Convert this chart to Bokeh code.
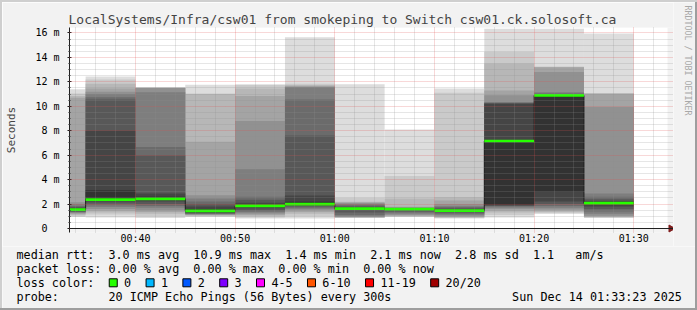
import math
from bokeh.plotting import figure
from bokeh.models import Range1d, FixedTicker, Div, ColumnDataSource, Span
from bokeh.layouts import column, row
from bokeh.embed import file_html
from bokeh.resources import INLINE
from bokeh.core.properties import value

# ---------------- data ----------------
title_text = "LocalSystems/Infra/csw01 from smokeping to Switch csw01.ck.solosoft.ca"
window_start = "00:33:23"
window_end = "01:33:23"
step_minutes = 5
bar_end = ["00:35", "00:40", "00:45", "00:50", "00:55", "01:00",
           "01:05", "01:10", "01:15", "01:20", "01:25", "01:30"]

# 20 sorted ping times (ms) per 5-minute step
pings_0035 = [0.95, 1.0, 1.1, 1.2, 1.25, 1.3, 1.35, 1.4, 1.45, 1.5, 1.58, 1.65, 1.75, 1.85, 2.0, 2.15, 10.7, 10.85, 11.05, 11.4]
pings_0040 = [0.9, 1.15, 1.3, 1.45, 1.6, 1.75, 1.9, 2.05, 2.2, 2.3, 3.13, 8.03, 10.56, 10.75, 11.0, 11.2, 11.45, 11.85, 12.2, 12.45]
pings_0045 = [0.85, 1.0, 1.2, 1.35, 1.5, 1.7, 1.85, 2.0, 2.2, 2.35, 2.6, 2.86, 6.0, 6.67, 11.16, 11.49, 11.5, 11.52, 11.54, 11.56]
pings_0050 = [0.95, 1.0, 1.05, 1.1, 1.14, 1.17, 1.2, 1.25, 1.3, 1.4, 1.6, 1.8, 2.0, 2.2, 2.45, 2.72, 7.1, 11.0, 11.05, 11.76]
pings_0055 = [0.82, 0.9, 1.0, 1.1, 1.2, 1.3, 1.4, 1.5, 1.65, 1.8, 1.95, 2.1, 2.35, 2.6, 4.85, 8.8, 10.85, 11.45, 11.75, 11.8]
pings_0100 = [0.82, 1.0, 1.2, 1.35, 1.5, 1.6, 1.7, 1.8, 1.9, 2.0, 2.18, 2.7, 7.62, 10.56, 11.57, 11.6, 11.65, 11.75, 11.85, 15.65]
pings_0105 = [0.87, 0.88, 0.9, 0.92, 0.95, 1.0, 1.1, 1.3, 1.5, 1.6, 1.66, 1.72, 1.8, 1.9, 2.0, 2.08, 2.14, 2.18, 2.5, 11.8]
pings_0110 = [0.95, 0.97, 1.0, 1.05, 1.1, 1.2, 1.3, 1.4, 1.5, 1.56, 1.6, 1.62, 1.64, 1.66, 1.69, 1.72, 1.77, 2.45, 4.3, 8.1]
pings_0115 = [0.82, 0.85, 0.9, 0.95, 1.0, 1.1, 1.2, 1.3, 1.4, 1.45, 1.52, 1.58, 1.65, 1.75, 1.85, 2.0, 2.3, 2.55, 11.1, 11.45]
pings_0120 = [0.9, 1.1, 1.3, 1.45, 1.6, 1.7, 1.8, 1.85, 1.9, 1.95, 7.2, 10.2, 10.25, 10.3, 10.35, 10.9, 11.3, 13.5, 14.45, 16.35]
pings_0125 = [1.2, 1.25, 1.35, 1.45, 1.55, 1.7, 1.85, 2.0, 2.2, 3.0, 10.92, 10.95, 11.0, 11.05, 11.16, 12.8, 13.2, 13.22, 13.25, 16.35]
pings_0130 = [0.87, 0.9, 0.93, 0.98, 1.05, 1.2, 1.4, 1.6, 1.8, 2.0, 2.12, 2.25, 2.4, 2.6, 2.86, 9.94, 11.03, 11.04, 11.05, 15.95]
pings = [pings_0035, pings_0040, pings_0045, pings_0050, pings_0055, pings_0100,
         pings_0105, pings_0110, pings_0115, pings_0120, pings_0125, pings_0130]

median_rtt = [1.55, 2.37, 2.42, 1.44, 1.85, 1.99, 1.63, 1.58, 1.47, 7.16, 10.89, 2.07]

x_tick_labels = ["00:40", "00:50", "01:00", "01:10", "01:20", "01:30"]
y_tick_values = [0, 2, 4, 6, 8, 10, 12, 14, 16]
y_tick_labels = ["0\u00a0\u00a0", "2 m", "4 m", "6 m", "8 m", "10 m", "12 m", "14 m", "16 m"]
y_max = 16.45
y_label = "Seconds"

legend_rtt = "median rtt:  3.0 ms avg  10.9 ms max  1.4 ms min  2.1 ms now  2.8 ms sd  1.1   am/s"
legend_loss = "packet loss: 0.00 % avg  0.00 % max  0.00 % min  0.00 % now"
loss_color_title = "loss color:"
loss_labels = ["0", "1", "2", "3", "4-5", "6-10", "11-19", "20/20"]
loss_colors = ["#26ff00", "#00b8ff", "#0059ff", "#7e00ff", "#ff00ff", "#ff5500", "#ff0000", "#a00000"]
probe_text = "probe:       20 ICMP Echo Pings (56 Bytes) every 300s"
date_text = "Sun Dec 14 01:33:23 2025"
watermark = "RRDTOOL / TOBI OETIKER"

# ---------------- helpers ----------------
def to_min(s):
    parts = [int(v) for v in s.split(":")]
    m = parts[0] * 60 + parts[1]
    if len(parts) > 2:
        m += parts[2] / 60.0
    return m

def keep_spaces(s):
    return s.replace(" ", "\u00a0")

FONT = "DejaVu Sans Mono"
BACK = "#f2f2f2"
AXIS = "#1f1f1f"
X0, X1 = to_min(window_start), to_min(window_end)
ends = [to_min(s) for s in bar_end]
starts = [e - step_minutes for e in ends]

# layout geometry (pixels): data window is 600 x 201 px
PX_PER_MIN = 600.0 / (X1 - X0)
PX_PER_MS = 201.0 / y_max
EXTRA_RIGHT_PX = 6      # room for the x-axis arrow
EXTRA_BOTTOM_PX = 4     # the y axis runs a little below the x axis

# ---------------- main plot ----------------
p = figure(width=671, height=244,
           x_range=Range1d(X0, X1 + EXTRA_RIGHT_PX / PX_PER_MIN),
           y_range=Range1d(-EXTRA_BOTTOM_PX / PX_PER_MS, y_max),
           output_backend="svg", toolbar_location=None,
           min_border_left=65, min_border_right=0, min_border_top=25, min_border_bottom=14,
           background_fill_color=BACK, border_fill_color=BACK, outline_line_color=None)

p.title.text = title_text
p.title.text_font = FONT
p.title.text_font_size = "13px"
p.title.text_font_style = "normal"
p.title.align = "left"
p.title.offset = -1
p.title.standoff = 2

# white canvas of the data window
p.quad(left=[X0], right=[X1], bottom=[0], top=[y_max], fill_color="#ffffff", line_color=None)

# smoke: band k spans ping k .. ping 21-k
npings = 20
half = npings // 2
for k in range(1, half + 1):
    g = int(190 / half * (half - k)) + 50
    col = "#%02x%02x%02x" % (g, g, g)
    src = ColumnDataSource(dict(
        left=[max(s, X0) for s in starts], right=ends,
        bottom=[pp[k - 1] for pp in pings],
        top=[pp[npings - k] for pp in pings]))
    p.quad(left="left", right="right", bottom="bottom", top="top", source=src,
           fill_color=col, line_color=None)

# median line (step) + loss-coloured band
mx, my = [], []
for s, e, m in zip(starts, ends, median_rtt):
    mx += [max(s, X0), e]
    my += [m, m]
p.line(mx, my, line_color="#202020", line_width=1)
sw = 0.11
p.quad(left=[max(s, X0) for s in starts], right=ends,
       bottom=[m - sw for m in median_rtt], top=[m + sw for m in median_rtt],
       fill_color=loss_colors[0], line_color=None)

# axes / grid
x_major = [to_min(s) for s in x_tick_labels]
x_minor = [m for m in range(34, 94, 2) if m not in x_major]
y_minor = [v / 2 for v in range(0, 33) if v % 4 != 0]
xt = FixedTicker(ticks=x_major, minor_ticks=x_minor)
yt = FixedTicker(ticks=y_tick_values, minor_ticks=y_minor)
p.xaxis.ticker = xt
p.yaxis.ticker = yt
p.xgrid.ticker = xt
p.ygrid.ticker = yt
p.xaxis.major_label_overrides = dict(zip(x_major, x_tick_labels))
p.yaxis.major_label_overrides = dict(zip(y_tick_values, y_tick_labels))

for ax in (p.xaxis[0], p.yaxis[0]):
    ax.major_label_text_font = FONT
    ax.major_label_text_font_size = "10px"
    ax.major_label_text_color = "#000000"

yax = p.yaxis[0]
yax.axis_line_color = AXIS
yax.major_tick_line_color = AXIS
yax.minor_tick_line_color = AXIS
yax.major_tick_in = 2
yax.major_tick_out = 2
yax.minor_tick_in = 1
yax.minor_tick_out = 1
yax.major_label_standoff = 8
yax.axis_label = y_label
yax.axis_label_text_font = FONT
yax.axis_label_text_font_size = "11px"
yax.axis_label_text_font_style = "normal"
yax.axis_label_standoff = 14

# x axis sits at frame bottom (4 px below zero) and only carries the labels
xax = p.xaxis[0]
xax.axis_line_color = None
xax.major_tick_line_color = None
xax.minor_tick_line_color = None
xax.major_tick_in = 0
xax.major_tick_out = 0
xax.minor_tick_in = 0
xax.minor_tick_out = 0
xax.major_label_standoff = 0

for gr in (p.xgrid[0], p.ygrid[0]):
    gr.grid_line_color = "#de4f4f"
    gr.grid_line_alpha = 0.45
    gr.grid_line_dash = "1 1"
    gr.minor_grid_line_color = "#8f8f8f"
    gr.minor_grid_line_alpha = 0.45
    gr.minor_grid_line_dash = "1 1"
    gr.level = "overlay"

# the zero line (x axis) with its arrow head
p.add_layout(Span(location=0, dimension="width", line_color=AXIS, line_width=1, level="overlay"))
p.scatter(x=[X1 + 3.5 / PX_PER_MIN], y=[0], marker="triangle", size=7, angle=-math.pi / 2,
          fill_color="#801f1f", line_color="#801f1f", level="overlay")

# ---------------- watermark strip (pixel coordinates) ----------------
wm = figure(width=22, height=244, x_range=Range1d(673, 695), y_range=Range1d(246, 2),
            output_backend="svg", toolbar_location=None, min_border=0,
            x_axis_location=None, y_axis_location=None,
            background_fill_color=BACK, border_fill_color=BACK, outline_line_color=None)
wm.grid.visible = False
wm.text(x=[687.7], y=[60], text=[keep_spaces(watermark)], angle=-math.pi / 2,
        text_font=value(FONT), text_font_size=value("8.3px"), text_color="#a8a8a8",
        text_align="center", text_baseline="middle")

# ---------------- legend area (pixel coordinates) ----------------
lg = figure(width=693, height=62, x_range=Range1d(2, 695), y_range=Range1d(308, 246),
            output_backend="svg", toolbar_location=None, min_border=0,
            x_axis_location=None, y_axis_location=None,
            background_fill_color=BACK, border_fill_color=BACK, outline_line_color=None)
lg.grid.visible = False

cw = 7.08
lx = 16
rows_y = [254.5, 268.3, 282.3, 296.6]
lg.text(x=[lx, lx, lx, lx, lx + 70 * cw], y=[rows_y[0], rows_y[1], rows_y[2], rows_y[3], rows_y[3]],
        text=[keep_spaces(t) for t in [legend_rtt, legend_loss, loss_color_title, probe_text, date_text]],
        text_font=value(FONT), text_font_size=value("11.75px"), text_baseline="middle",
        text_align="left", text_color="#000000")

cursor = lx + 13.1 * cw
bx, tx = [], []
for lab in loss_labels:
    bx.append(cursor + 4)
    tstart = cursor + 2.1 * cw
    tx.append(tstart)
    cursor = tstart + len(lab) * cw + 2.1 * cw
lg.rect(x=bx, y=[rows_y[2]] * len(bx), width=8, height=8, fill_color=loss_colors,
        line_color="#000000", line_width=1)
lg.text(x=tx, y=[rows_y[2]] * len(tx), text=loss_labels, text_font=value(FONT),
        text_font_size=value("11.75px"), text_baseline="middle", text_align="left",
        text_color="#000000")

# ---------------- frame ----------------
def strip(w, h, c):
    return Div(width=w, height=h, margin=0, styles={"background-color": c})

layout = column(
    strip(697, 2, "#cfcfcf"),
    row(strip(2, 244, "#cfcfcf"), p, column(wm, spacing=0), strip(2, 244, "#9e9e9e"), spacing=0),
    row(strip(2, 62, "#cfcfcf"), lg, strip(2, 62, "#9e9e9e"), spacing=0),
    strip(697, 2, "#9e9e9e"),
    spacing=0)

open("out.html", "w").write(file_html(layout, INLINE))
